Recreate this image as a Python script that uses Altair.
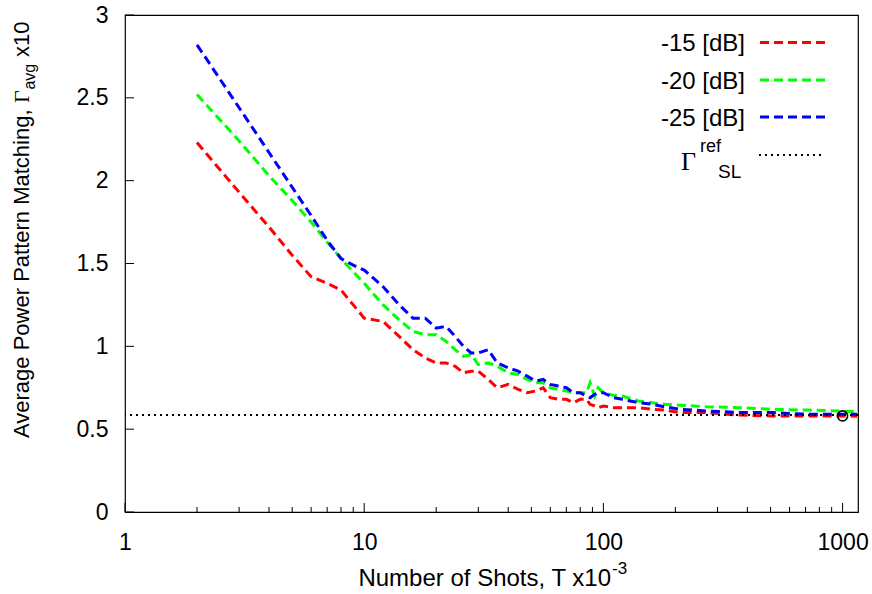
import altair as alt
import pandas as pd

# ---------------- data ----------------
T = [2, 3, 4, 5, 6, 7, 8, 9, 10,
     12, 14, 16, 18, 20,
     22, 24, 26, 28, 30,
     33, 36, 40, 44, 48,
     52, 56, 60, 65, 70,
     75, 80, 85, 88, 92,
     95, 100, 110, 120, 140,
     160, 180, 210, 270, 370,
     510, 710, 980, 1150]

red = [2.23, 1.93, 1.72, 1.55, 1.42, 1.38, 1.34, 1.25, 1.17,
       1.15, 1.06, 0.98, 0.93, 0.90,
       0.90, 0.88, 0.84, 0.85, 0.85,
       0.80, 0.75, 0.77, 0.74, 0.72,
       0.73, 0.75, 0.69, 0.68, 0.68,
       0.66, 0.68, 0.68, 0.65, 0.64,
       0.63, 0.64, 0.63, 0.63, 0.63,
       0.62, 0.615, 0.60, 0.60, 0.585,
       0.58, 0.58, 0.58, 0.578]

green = [2.52, 2.24, 2.03, 1.88, 1.75, 1.63, 1.53, 1.45, 1.38,
         1.25, 1.16, 1.09, 1.07, 1.07,
         1.03, 0.98, 0.94, 0.95, 0.89,
         0.90, 0.88, 0.84, 0.83, 0.80,
         0.78, 0.78, 0.75, 0.74, 0.73,
         0.72, 0.72, 0.72, 0.78, 0.70,
         0.75, 0.72, 0.705, 0.70, 0.67,
         0.66, 0.65, 0.645, 0.635, 0.63,
         0.62, 0.615, 0.61, 0.605]

blue = [2.82, 2.44, 2.17, 1.96, 1.79, 1.64, 1.53, 1.49, 1.46,
        1.36, 1.25, 1.17, 1.17, 1.11,
        1.12, 1.06, 1.00, 0.96, 0.96,
        0.98, 0.90, 0.87, 0.85, 0.82,
        0.79, 0.80, 0.77, 0.76, 0.75,
        0.72, 0.72, 0.70, 0.69, 0.71,
        0.72, 0.72, 0.69, 0.68, 0.66,
        0.65, 0.635, 0.62, 0.61, 0.60,
        0.60, 0.59, 0.59, 0.59]

series_names = ["-15 [dB]", "-20 [dB]", "-25 [dB]"]
series_colors = ["#ff0000", "#00ff00", "#0000ff"]
ref_level = [0.585]
marker_T = [1000]
marker_val = [0.58]
x_major = [1, 10, 100, 1000]
x_minor = [2, 3, 4, 5, 6, 7, 8, 9, 20, 30, 40, 50, 60, 70, 80, 90,
           200, 300, 400, 500, 600, 700, 800, 900]
y_ticks = [0, 0.5, 1, 1.5, 2, 2.5, 3]

# ---------------- layout ----------------
W, H = 733, 497
FONT = "Liberation Sans"
SERIF = "Liberation Serif"
FS = 22
TICK_FS = 23
LEG_FS = 24

xscale = alt.Scale(type="log", domain=[1, 1160], nice=False)
yscale = alt.Scale(domain=[0, 3], nice=False)

df = pd.DataFrame({
    "T": T * 3,
    "value": red + green + blue,
    "series": [series_names[0]] * len(T) + [series_names[1]] * len(T) + [series_names[2]] * len(T),
})

LW = 3

lines = alt.Chart(df).mark_line(strokeWidth=LW, strokeDash=[9, 5], clip=True).encode(
    x=alt.X("T:Q", scale=xscale,
            axis=alt.Axis(values=x_major, labelExpr="format(datum.value, 'd')", tickSize=0,
                          domain=False, grid=False, labelFontSize=TICK_FS, labelPadding=19,
                          title=None, labelFlush=False, labelFont=FONT, labelColor="black")),
    y=alt.Y("value:Q", scale=yscale,
            axis=alt.Axis(values=y_ticks, labelExpr="format(datum.value, '~g')", tickSize=0,
                          domain=False, grid=False, labelFontSize=TICK_FS, labelPadding=17,
                          title=None, labelFont=FONT, labelColor="black")),
    color=alt.Color("series:N", scale=alt.Scale(domain=series_names, range=series_colors), legend=None),
)

ref = alt.Chart(pd.DataFrame({"ref": ref_level})).mark_rule(
    color="black", strokeDash=[2, 4], strokeWidth=2
).encode(y=alt.Y("ref:Q", scale=yscale))

marker = alt.Chart(pd.DataFrame({"T": marker_T, "v": marker_val})).mark_point(
    shape="circle", filled=False, color="black", size=100, strokeWidth=1.6, opacity=1
).encode(x=alt.X("T:Q", scale=xscale), y=alt.Y("v:Q", scale=yscale))

xmaj = alt.Chart(pd.DataFrame({"t": x_major})).mark_rule(color="black", strokeWidth=1).encode(
    x=alt.X("t:Q", scale=xscale), y=alt.value(H), y2=alt.value(H - 9))
xmin = alt.Chart(pd.DataFrame({"t": x_minor})).mark_rule(color="black", strokeWidth=1).encode(
    x=alt.X("t:Q", scale=xscale), y=alt.value(H), y2=alt.value(H - 5))
ytk = alt.Chart(pd.DataFrame({"v": y_ticks})).mark_rule(color="black", strokeWidth=1).encode(
    y=alt.Y("v:Q", scale=yscale), x=alt.value(0), x2=alt.value(9))

layers = [lines, ref, marker, xmaj, xmin, ytk]


def txt(s, x, y, size=FS, font=FONT, align="left", angle=0, baseline="alphabetic"):
    kw = dict(align=align, baseline=baseline, fontSize=size, font=font, color="black")
    if angle:
        kw["angle"] = angle
    return alt.Chart(pd.DataFrame({"s": [s]})).mark_text(**kw).encode(
        text="s:N", x=alt.value(x), y=alt.value(y))


# legend (inside, top right)
leg_line_y = [27.5, 65, 102]
leg_text_y = [36, 73.5, 110.5]
for name, col, ly, ty in zip(series_names, series_colors, leg_line_y, leg_text_y):
    layers.append(txt(name, 620, ty, size=LEG_FS, align="right"))
    layers.append(
        alt.Chart(pd.DataFrame({"s": [name]})).mark_rule(
            color=col, strokeDash=[9, 5], strokeWidth=LW
        ).encode(x=alt.value(635), x2=alt.value(703), y=alt.value(ly))
    )
layers.append(txt("Γ", 556, 155, size=26, font=SERIF))
layers.append(txt("ref", 575, 137, size=18))
layers.append(txt("SL", 593, 163, size=19))
layers.append(
    alt.Chart(pd.DataFrame({"s": ["ref"]})).mark_rule(
        color="black", strokeDash=[2, 4], strokeWidth=2
    ).encode(x=alt.value(634), x2=alt.value(697), y=alt.value(140))
)

# y-axis title
layers.append(txt("Average Power Pattern Matching, ", -96, 423, angle=270))
layers.append(txt("Γ", -96, 88, font=SERIF, angle=270))
layers.append(txt("avg", -90, 74.6, size=16, angle=270))
layers.append(txt("x10", -96, 42, angle=270))

# x-axis title
layers.append(txt("Number of Shots, T x10", 486, 571, size=24, align="right"))
layers.append(txt("-3", 487, 559, size=17))

chart = alt.layer(*layers).properties(
    width=W, height=H,
    padding={"left": 125, "top": 15, "right": 14, "bottom": 82},
    autosize="none",
    background="white",
).configure_view(stroke="black", strokeWidth=1.2)

chart.save("out.html", embed_options={"renderer": "svg", "actions": False})
